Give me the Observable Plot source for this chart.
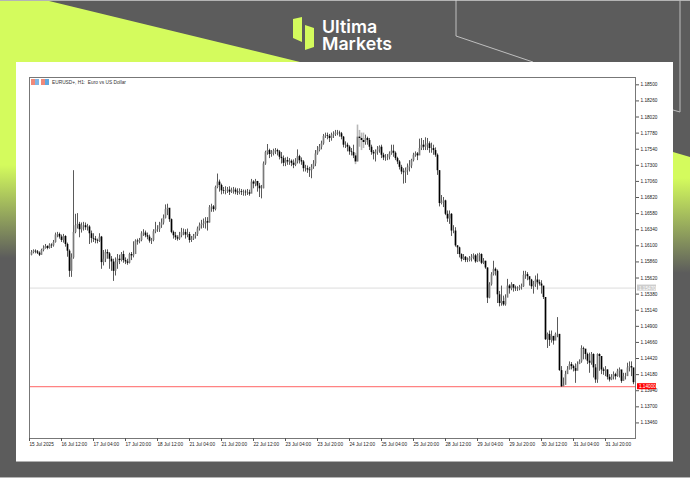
<!DOCTYPE html>
<html>
<head>
<meta charset="utf-8">
<script src="https://cdn.jsdelivr.net/npm/d3@7"></script>
<script src="https://cdn.jsdelivr.net/npm/@observablehq/plot@0.6"></script>
<style>
html,body{margin:0;padding:0;background:#5c5c5c;width:690px;height:478px;overflow:hidden}
#bg,#chart{position:absolute;left:0;top:0}
#chart svg{background:transparent;display:block;overflow:visible}
</style>
</head>
<body>
<svg id="bg" width="690" height="478" viewBox="0 0 690 478" xmlns="http://www.w3.org/2000/svg">
  <defs>
    <linearGradient id="gl" gradientUnits="userSpaceOnUse" x1="0" y1="165" x2="0" y2="258">
      <stop offset="0" stop-color="#d4fb5d"/><stop offset="1" stop-color="#5c5c5c"/>
    </linearGradient>
    <linearGradient id="gr" gradientUnits="userSpaceOnUse" x1="0" y1="178" x2="0" y2="273">
      <stop offset="0" stop-color="#d4fb5d"/><stop offset="1" stop-color="#5c5c5c"/>
    </linearGradient>
  </defs>
  <rect width="690" height="478" fill="#5c5c5c"/>
  <polygon points="0,0 45,0 300,62 16,62 16,258 0,258" fill="url(#gl)"/>
  <polygon points="673,152 690,157 690,273 673,273" fill="url(#gr)"/>
  <rect x="0" y="0" width="690" height="1" fill="#b4b4b4"/>
  <rect x="0" y="477" width="690" height="1" fill="#b4b4b4"/>
  <polyline points="456,0 456,36 533,62" fill="none" stroke="#d8d8d8" stroke-width="0.8"/>
  <polyline points="680,0 680,112 673,110" fill="none" stroke="#bdbdbd" stroke-width="1"/>
  <rect x="16" y="62" width="657" height="399" fill="#fff"/>
  <rect x="16" y="461" width="657" height="1" fill="#b0b0b0"/>
  <polygon points="293,19 302,17 302,42 293,38" fill="#d4fb5d"/>
  <polygon points="305,25 314,28 314,47 305,50" fill="#d4fb5d"/>
  <text x="322" y="32.5" font-family="Inter" font-weight="600" font-size="17.8" fill="#fff">Ultima</text>
  <text x="322" y="49.5" font-family="Inter" font-weight="600" font-size="17.8" fill="#fff">Markets</text>
  <rect x="31" y="79" width="4" height="6" fill="#f08a7a"/><rect x="35" y="79" width="4" height="6" fill="#7fb6e6"/>
  <rect x="41" y="79" width="4" height="6" fill="#f08a7a"/><rect x="45" y="79" width="4" height="6" fill="#5fa8e0"/>
  <text x="52" y="84" font-family="Liberation Sans" font-size="4.8" fill="#333">EURUSD+, H1:&#160; Euro vs US Dollar</text>
</svg>
<div id="chart"></div>
<script>
const closes = [
1.1596,1.1600,1.1602,1.1601,1.1599,1.1596,1.1603,1.1606,1.1609,1.1606,1.1611,1.1610,1.1615,1.1626,1.1627,1.1623,1.1618,1.1624,1.1612,1.1602,
1.1572,1.1592,1.1630,1.1640,1.1642,1.1634,1.1640,1.1640,1.1637,1.1638,1.1628,1.1621,1.1620,1.1618,1.1617,1.1623,1.1585,1.1590,1.1600,1.1598,
1.1590,1.1586,1.1572,1.1585,1.1590,1.1588,1.1597,1.1588,1.1586,1.1584,1.1597,1.1595,1.1597,1.1617,1.1616,1.1618,1.1628,1.1629,1.1625,1.1623,
1.1617,1.1618,1.1631,1.1634,1.1634,1.1640,1.1644,1.1651,1.1664,1.1666,1.1649,1.1630,1.1625,1.1622,1.1620,1.1625,1.1630,1.1630,1.1626,1.1627,
1.1618,1.1620,1.1624,1.1627,1.1635,1.1640,1.1642,1.1643,1.1646,1.1644,1.1667,1.1668,1.1664,1.1697,1.1705,1.1700,1.1692,1.1691,1.1692,1.1693,
1.1690,1.1692,1.1693,1.1690,1.1689,1.1691,1.1690,1.1690,1.1689,1.1689,1.1687,1.1705,1.1702,1.1706,1.1699,1.1695,1.1695,1.1732,1.1749,1.1752,
1.1746,1.1748,1.1751,1.1752,1.1750,1.1742,1.1740,1.1733,1.1737,1.1735,1.1736,1.1733,1.1730,1.1735,1.1743,1.1737,1.1735,1.1725,1.1725,1.1723,
1.1722,1.1727,1.1732,1.1747,1.1752,1.1757,1.1762,1.1773,1.1774,1.1773,1.1770,1.1775,1.1776,1.1778,1.1778,1.1777,1.1772,1.1760,1.1760,1.1757,
1.1750,1.1749,1.1744,1.1735,1.1772,1.1770,1.1767,1.1764,1.1770,1.1767,1.1757,1.1749,1.1747,1.1750,1.1753,1.1757,1.1745,1.1741,1.1741,1.1742,
1.1747,1.1751,1.1748,1.1740,1.1735,1.1727,1.1720,1.1719,1.1722,1.1727,1.1729,1.1737,1.1745,1.1747,1.1744,1.1755,1.1760,1.1757,1.1760,1.1762,
1.1755,1.1755,1.1752,1.1745,1.1722,1.1673,1.1675,1.1677,1.1657,1.1650,1.1657,1.1632,1.1632,1.1610,1.1607,1.1597,1.1590,1.1593,1.1588,1.1588,
1.1591,1.1593,1.1595,1.1586,1.1595,1.1597,1.1584,1.1587,1.1577,1.1532,1.1552,1.1567,1.1575,1.1572,1.1537,1.1524,1.1527,1.1522,1.1532,1.1550,
1.1546,1.1552,1.1547,1.1546,1.1546,1.1548,1.1549,1.1566,1.1567,1.1564,1.1559,1.1549,1.1552,1.1559,1.1555,1.1553,1.1550,1.1533,1.1470,1.1478,
1.1469,1.1475,1.1468,1.1478,1.1478,1.1424,1.1400,1.1402,1.1418,1.1425,1.1433,1.1430,1.1427,1.1423,1.1433,1.1437,1.1457,1.1456,1.1448,1.1438,
1.1435,1.1448,1.1428,1.1410,1.1448,1.1445,1.1425,1.1423,1.1425,1.1414,1.1410,1.1414,1.1418,1.1415,1.1423,1.1425,1.1408,1.1415,1.1415,1.1428,
1.1430,1.1428,1.1406];
const highs = [
1.1600,1.1603,1.1604,1.1604,1.1603,1.1601,1.1605,1.1610,1.1612,1.1610,1.1613,1.1613,1.1618,1.1629,1.1630,1.1629,1.1626,1.1627,1.1625,1.1614,
1.1604,1.1598,1.1722,1.1657,1.1658,1.1645,1.1644,1.1645,1.1644,1.1642,1.1640,1.1632,1.1628,1.1624,1.1620,1.1628,1.1624,1.1603,1.1604,1.1604,
1.1600,1.1594,1.1590,1.1592,1.1597,1.1596,1.1600,1.1602,1.1592,1.1590,1.1599,1.1600,1.1616,1.1619,1.1620,1.1621,1.1631,1.1634,1.1632,1.1629,
1.1626,1.1621,1.1634,1.1645,1.1640,1.1645,1.1650,1.1656,1.1671,1.1672,1.1665,1.1650,1.1632,1.1630,1.1625,1.1630,1.1636,1.1635,1.1634,1.1635,
1.1630,1.1624,1.1627,1.1630,1.1638,1.1644,1.1648,1.1650,1.1652,1.1652,1.1670,1.1672,1.1670,1.1699,1.1717,1.1708,1.1702,1.1697,1.1698,1.1697,
1.1698,1.1696,1.1697,1.1696,1.1695,1.1695,1.1694,1.1693,1.1693,1.1694,1.1693,1.1709,1.1707,1.1709,1.1705,1.1703,1.1700,1.1735,1.1751,1.1761,
1.1754,1.1752,1.1754,1.1755,1.1754,1.1752,1.1749,1.1744,1.1741,1.1742,1.1740,1.1738,1.1738,1.1740,1.1753,1.1745,1.1741,1.1737,1.1730,1.1729,
1.1727,1.1731,1.1737,1.1752,1.1758,1.1761,1.1766,1.1776,1.1778,1.1778,1.1776,1.1778,1.1780,1.1782,1.1782,1.1781,1.1779,1.1773,1.1765,1.1763,
1.1759,1.1755,1.1760,1.1748,1.1790,1.1782,1.1778,1.1778,1.1775,1.1772,1.1770,1.1760,1.1752,1.1753,1.1758,1.1759,1.1760,1.1748,1.1746,1.1746,
1.1750,1.1760,1.1760,1.1750,1.1742,1.1737,1.1730,1.1725,1.1726,1.1732,1.1737,1.1739,1.1748,1.1750,1.1749,1.1769,1.1770,1.1767,1.1771,1.1770,
1.1765,1.1763,1.1760,1.1756,1.1747,1.1722,1.1685,1.1682,1.1678,1.1662,1.1662,1.1658,1.1640,1.1637,1.1610,1.1608,1.1598,1.1597,1.1594,1.1592,
1.1594,1.1597,1.1598,1.1597,1.1598,1.1599,1.1598,1.1591,1.1587,1.1577,1.1555,1.1570,1.1587,1.1577,1.1574,1.1542,1.1550,1.1535,1.1537,1.1560,
1.1552,1.1555,1.1552,1.1550,1.1549,1.1551,1.1553,1.1572,1.1572,1.1570,1.1563,1.1560,1.1557,1.1565,1.1568,1.1559,1.1558,1.1543,1.1533,1.1480,
1.1483,1.1483,1.1475,1.1480,1.1503,1.1478,1.1430,1.1413,1.1423,1.1430,1.1437,1.1436,1.1432,1.1434,1.1437,1.1440,1.1461,1.1459,1.1455,1.1450,
1.1450,1.1451,1.1449,1.1433,1.1449,1.1449,1.1433,1.1428,1.1430,1.1425,1.1418,1.1418,1.1422,1.1420,1.1426,1.1428,1.1420,1.1420,1.1420,1.1435,
1.1437,1.1437,1.1418];
const lows = [
1.1593,1.1595,1.1598,1.1598,1.1597,1.1594,1.1596,1.1601,1.1605,1.1604,1.1605,1.1606,1.1608,1.1614,1.1622,1.1620,1.1615,1.1614,1.1608,1.1593,
1.1563,1.1563,1.1590,1.1628,1.1635,1.1622,1.1629,1.1632,1.1633,1.1632,1.1612,1.1614,1.1615,1.1613,1.1613,1.1615,1.1575,1.1580,1.1585,1.1590,
1.1575,1.1572,1.1557,1.1565,1.1575,1.1582,1.1586,1.1584,1.1582,1.1581,1.1583,1.1588,1.1592,1.1602,1.1611,1.1613,1.1616,1.1624,1.1622,1.1619,
1.1614,1.1612,1.1616,1.1628,1.1630,1.1630,1.1636,1.1641,1.1650,1.1655,1.1645,1.1628,1.1620,1.1618,1.1617,1.1618,1.1622,1.1625,1.1620,1.1622,
1.1614,1.1615,1.1618,1.1620,1.1624,1.1632,1.1635,1.1636,1.1635,1.1632,1.1644,1.1660,1.1660,1.1662,1.1695,1.1690,1.1686,1.1687,1.1686,1.1688,
1.1685,1.1688,1.1687,1.1686,1.1685,1.1686,1.1685,1.1684,1.1684,1.1685,1.1684,1.1692,1.1695,1.1698,1.1690,1.1682,1.1680,1.1695,1.1730,1.1745,
1.1740,1.1742,1.1744,1.1746,1.1744,1.1738,1.1732,1.1728,1.1728,1.1730,1.1730,1.1728,1.1725,1.1728,1.1732,1.1732,1.1730,1.1720,1.1720,1.1718,
1.1712,1.1710,1.1724,1.1728,1.1745,1.1750,1.1753,1.1760,1.1770,1.1768,1.1764,1.1766,1.1770,1.1773,1.1774,1.1772,1.1768,1.1756,1.1755,1.1750,
1.1745,1.1744,1.1740,1.1731,1.1735,1.1757,1.1752,1.1755,1.1760,1.1760,1.1752,1.1745,1.1738,1.1735,1.1745,1.1748,1.1740,1.1737,1.1736,1.1737,
1.1738,1.1745,1.1742,1.1737,1.1731,1.1723,1.1716,1.1702,1.1703,1.1715,1.1720,1.1725,1.1735,1.1742,1.1737,1.1750,1.1752,1.1752,1.1752,1.1752,
1.1748,1.1748,1.1745,1.1742,1.1715,1.1668,1.1671,1.1667,1.1655,1.1645,1.1642,1.1624,1.1628,1.1608,1.1597,1.1592,1.1586,1.1588,1.1585,1.1585,
1.1586,1.1586,1.1589,1.1584,1.1585,1.1586,1.1582,1.1582,1.1575,1.1524,1.1531,1.1550,1.1565,1.1565,1.1524,1.1519,1.1520,1.1520,1.1520,1.1536,
1.1538,1.1543,1.1541,1.1542,1.1542,1.1543,1.1544,1.1548,1.1560,1.1558,1.1550,1.1545,1.1538,1.1548,1.1544,1.1550,1.1538,1.1530,1.1469,1.1457,
1.1460,1.1465,1.1462,1.1470,1.1473,1.1423,1.1399,1.1400,1.1403,1.1423,1.1425,1.1425,1.1422,1.1405,1.1425,1.1433,1.1435,1.1440,1.1440,1.1433,
1.1420,1.1432,1.1413,1.1405,1.1405,1.1423,1.1418,1.1417,1.1415,1.1410,1.1407,1.1409,1.1410,1.1410,1.1414,1.1413,1.1405,1.1408,1.1410,1.1418,
1.1422,1.1415,1.1403];
const priceTicks = [1.185,1.1826,1.1802,1.1778,1.1754,1.173,1.1706,1.1682,1.1658,1.1634,1.161,1.1586,1.1562,1.1538,1.1514,1.149,1.1466,1.1442,1.1418,1.1394,1.137,1.1346];
const timeLabels = ["15 Jul 2025","16 Jul 12:00","17 Jul 04:00","17 Jul 20:00","18 Jul 12:00","21 Jul 04:00","21 Jul 20:00","22 Jul 12:00","23 Jul 04:00","23 Jul 20:00","24 Jul 12:00","25 Jul 04:00","25 Jul 20:00","28 Jul 12:00","29 Jul 04:00","29 Jul 20:00","30 Jul 12:00","31 Jul 04:00","31 Jul 20:00"];
const paleBars = [163,164,165,166,167];
const barsPerLabel = 16;
const grayLevel = 1.1547, redLevel = 1.14;

const bars = closes.map((c,i)=>({i,close:c,open:i?closes[i-1]:c,high:highs[i],low:lows[i]}));
const tickIdx = timeLabels.map((_,k)=>k*barsPerLabel);
const font = "Liberation Sans";

const plot = Plot.plot({
  width:690,height:478,marginLeft:29,marginRight:55,marginTop:77,marginBottom:40,
  style:{background:"transparent",fontFamily:font},
  x:{type:"linear",domain:[0,303]},
  y:{type:"linear",domain:[1.13228,1.18609]},
  marks:[
    Plot.ruleY([grayLevel],{stroke:"#dcdcdc",strokeWidth:1}),
    Plot.ruleY([redLevel],{stroke:"#ff6464",strokeWidth:1}),
    Plot.ruleX(bars.filter(d=>!paleBars.includes(d.i)),{x:"i",y1:"low",y2:"high",stroke:"#5a5a5a",strokeWidth:1}),
    Plot.ruleX(bars.filter(d=>paleBars.includes(d.i)),{x:"i",y1:"low",y2:"high",stroke:"#b8b8b8",strokeWidth:1.6}),
    Plot.ruleX(bars.filter(d=>d.close>=d.open),{x:"i",y1:"open",y2:"close",stroke:"#7a7a7a",strokeWidth:1.7}),
    Plot.ruleX(bars.filter(d=>d.close<d.open),{x:"i",y1:"open",y2:"close",stroke:"#000",strokeWidth:1.7}),
    Plot.frame({stroke:"#777",strokeWidth:1}),
    Plot.axisY({anchor:"right",ticks:priceTicks,tickFormat:d3.format(".5f"),tickSize:3,tickPadding:2,fontSize:4.7,label:null,stroke:"#555",fill:"#222"}),
    Plot.axisX({anchor:"bottom",ticks:tickIdx,tickFormat:d=>timeLabels[d/barsPerLabel],tickSize:3,tickPadding:1,fontSize:4.7,label:null,textAnchor:"start",stroke:"#555",fill:"#222"}),
    Plot.rect([grayLevel],{x1:304,x2:313.5,y1:d=>d-0.00045,y2:d=>d+0.00045,fill:"#cdcdcd",clip:false}),
    Plot.text([grayLevel],{x:304.7,y:d=>d,text:d=>d.toFixed(5),textAnchor:"start",fill:"#fff",fontSize:4.7,clip:false}),
    Plot.rect([redLevel],{x1:304,x2:313.5,y1:d=>d-0.00045,y2:d=>d+0.00045,fill:"#ff0000",clip:false}),
    Plot.text([redLevel],{x:304.7,y:d=>d,text:d=>d.toFixed(5),textAnchor:"start",fill:"#fff",fontSize:4.7,clip:false})
  ]
});
document.getElementById("chart").appendChild(plot);
</script>
</body>
</html>
